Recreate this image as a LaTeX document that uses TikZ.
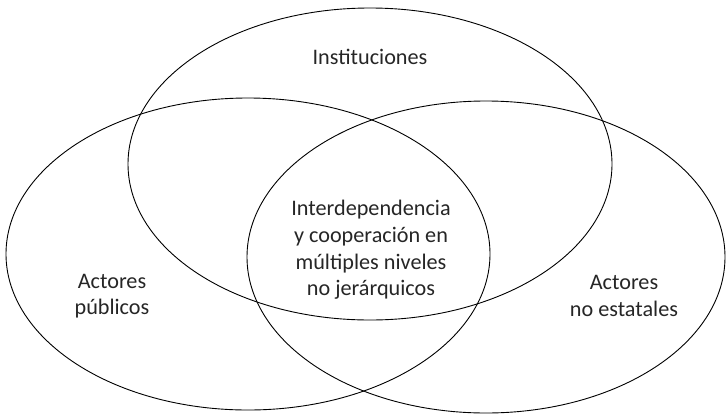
\documentclass[tikz,border=0pt]{standalone}
\usepackage{fontspec}
\setmainfont{Carlito}
\usetikzlibrary{shapes.geometric}

\tikzset{
  venn/.style={draw, ellipse, line width=0.9pt, inner sep=0pt, outer sep=0pt,
    minimum width=484pt, minimum height=312pt},
  setlabel/.style={align=center, inner sep=0pt, text=black!85,
    font=\fontsize{22.2}{26.6}\selectfont}
}

\begin{document}
\begin{tikzpicture}[x=1pt,y=-1pt]
  \useasboundingbox (0,0) rectangle (726,413);

  %Sets
  \node[venn] (Instituciones) at (370,164) {};
  \node[venn] (Publicos) at (248,254) {};
  \node[venn, minimum width=478pt] (NoEstatales) at (486,257) {};

  %Labels
  \node[setlabel, anchor=base] (InstLabel) at (370,64) {Instituciones};
  \node[setlabel] (PubLabel) at (112,296) {Actores\\públicos};
  \node[setlabel] (NoEstLabel) at (624,296) {Actores\\no estatales};
  \node[setlabel] (Centro) at (371,250)
    {Interdependencia\\y cooperación en\\múltiples niveles\\no jerárquicos};
\end{tikzpicture}
\end{document}
